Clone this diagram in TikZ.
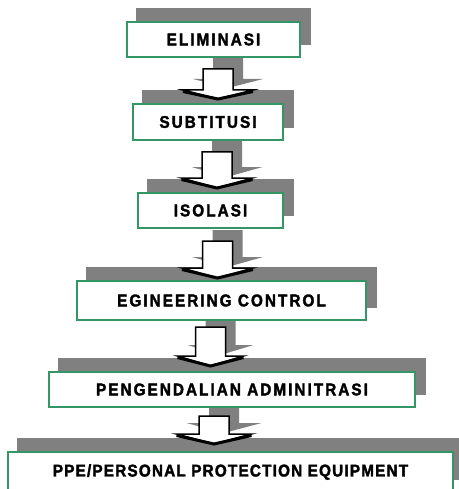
\documentclass[tikz,border=0pt]{standalone}
\usepackage{fontspec}
\usetikzlibrary{calc,backgrounds}
\newfontfamily\boxfont{Liberation Sans}[FakeStretch=0.9,LetterSpace=12,FakeBold=2]
\newfontfamily\boxfontppe{Liberation Sans}[FakeStretch=0.9,LetterSpace=7,FakeBold=2]
\definecolor{boxgreen}{RGB}{51,150,100}
\definecolor{shadowgray}{RGB}{128,128,128}
\begin{document}
\begin{tikzpicture}[x=1pt,y=-1pt,
  hbox/.style={draw=boxgreen, line width=2pt, fill=white, inner sep=0pt,
    font=\boxfont\bfseries\fontsize{17}{19}\selectfont},
  boxshadow/.style={fill=shadowgray},
  pics/barrow/.style n args={3}{code={
    \draw[fill=white, line width=1.5pt, line join=miter]
      (-15,0) -- (15,0) -- (15,#1) -- (#2,#1) -- (0,#3) -- (-#2,#1) -- (-15,#1) -- cycle;
    \draw[line width=3pt] (-#2,#1+1.5) -- (0,#3) -- (#2,#1+1.5);
  }},
  pics/barrowshadow/.style n args={3}{code={
    \fill[shadowgray]
      (-15,0) -- (15,0) -- (15,#1) -- (#2,#1) -- (0,#3) -- (-#2,#1) -- (-15,#1) -- cycle;
  }},
]
\useasboundingbox (0,0) rectangle (458,489);
\clip (0,0) rectangle (458,489);

\node[hbox, minimum width=173pt, minimum height=35pt] (b1) at (213.5,39.5) {ELIMINASI};
\node[hbox, minimum width=150pt, minimum height=36pt] (b2) at (208,122) {SUBTITUSI};
\node[hbox, minimum width=145pt, minimum height=35pt] (b3) at (210.5,210.5) {ISOLASI};
\node[hbox, minimum width=289pt, minimum height=39pt] (b4) at (221.5,300.5) {EGINEERING CONTROL};
\node[hbox, minimum width=366pt, minimum height=35pt] (b5) at (232,389.5) {PENGENDALIAN ADMINITRASI};
\node[hbox, minimum width=445pt, minimum height=40pt,
  font=\boxfontppe\bfseries\fontsize{17}{19}\selectfont] (b6) at (230.5,472) {PPE/PERSONAL PROTECTION EQUIPMENT};

% block arrows between boxes
\pic at ($(b1.south)+(4.5,11)$) {barrow={21}{35}{30}};
\pic at ($(b2.south)+(9,11)$) {barrow={26}{35.5}{36}};
\pic at ($(b3.south)+(7,12)$) {barrow={27}{35.5}{37}};
\pic at ($(b4.south)+(-11,6)$) {barrow={29}{33}{39}};
\pic at ($(b5.south)+(-18,8)$) {barrow={18}{37.5}{28}};

\begin{pgfonlayer}{background}
  \fill[white] (0,0) rectangle (458,489);
  \foreach \b in {b1,b2,b3,b4,b5,b6}{
    \fill[boxshadow] ([shift={(10,-13)}]\b.north west) rectangle ([shift={(10,-13)}]\b.south east);
  }
  \pic at ($(b1.south)+(14.5,0)$) {barrowshadow={21}{35}{30}};
  \pic at ($(b2.south)+(19,0)$) {barrowshadow={26}{35.5}{36}};
  \pic at ($(b3.south)+(17,1)$) {barrowshadow={27}{35.5}{37}};
  \pic at ($(b4.south)+(-1,-5)$) {barrowshadow={29}{33}{39}};
  \pic at ($(b5.south)+(-8,-3)$) {barrowshadow={18}{37.5}{28}};
\end{pgfonlayer}
\end{tikzpicture}
\end{document}
